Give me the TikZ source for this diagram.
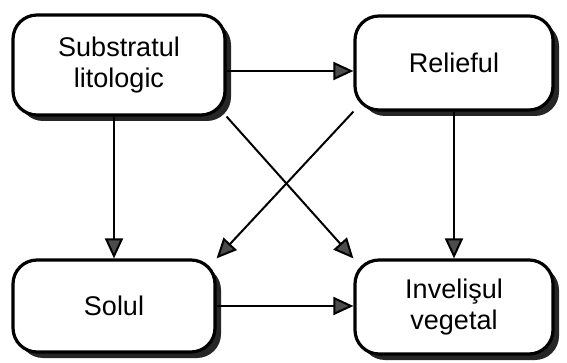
\documentclass[tikz,border=0pt]{standalone}
\usepackage{fontspec}
\setmainfont{Liberation Sans}
\usetikzlibrary{arrows.meta,shadows}
\tikzset{
  factor/.style={draw, line width=1.6pt, rounded corners=12pt, fill=white,
    minimum width=99pt, minimum height=47pt, align=center,
    font=\fontsize{13.5}{15.5}\selectfont,
    drop shadow={shadow xshift=3pt, shadow yshift=-3pt, fill=black!85, opacity=1}},
  link/.style={->, line width=1pt}
}
\begin{document}
\begin{tikzpicture}[x=0.5pt,y=-0.5pt,>={Triangle[length=10pt,width=9pt,fill=black!70]}]
    \useasboundingbox (0,0) rectangle (567,363);

    \node[factor, minimum width=106pt, minimum height=50pt] (sub) at (119,65) {Substratul\\litologic};
    \node[factor] (rel) at (454,63) {Relieful};
    \node[factor, minimum width=101pt, minimum height=46pt] (sol) at (114,306) {Solul};
    \node[factor] (inv) at (454,307) {Invelişul\\vegetal};

    \draw[link] ([yshift=-3pt]sub.east) to ([yshift=-3pt]rel.west |- sub.east);
    \draw[link] (sub.south -| sol.north) to (sol.north);
    \draw[link] (rel.south) to (rel.south |- inv.north);
    \draw[link] (sol.east) to (sol.east -| inv.west);
    \draw[link] (sub.south east) to (inv.north west);
    \draw[link] (rel.south west) to (sol.north east);
\end{tikzpicture}
\end{document}
